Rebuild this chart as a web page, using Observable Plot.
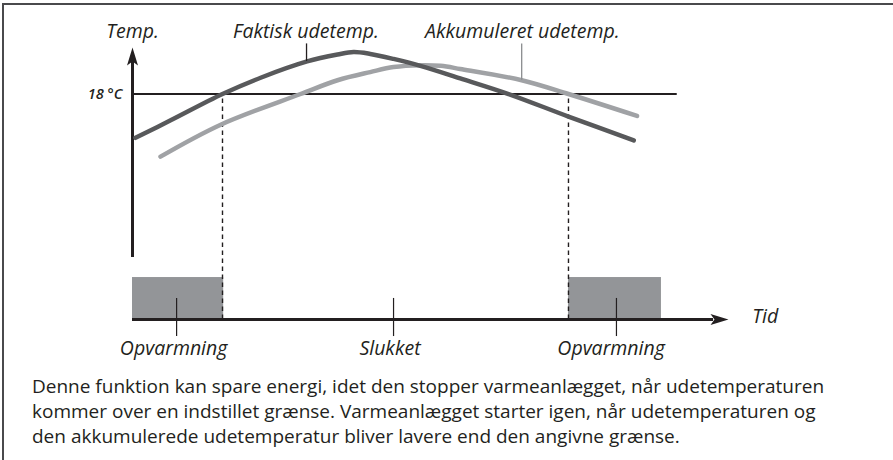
<!DOCTYPE html>
<html>
<head>
<meta charset="utf-8">
<script src="https://cdn.jsdelivr.net/npm/d3@7"></script>
<script src="https://cdn.jsdelivr.net/npm/@observablehq/plot@0.6"></script>
<style>
  html, body { margin: 0; padding: 0; background: #fff; }
  body { width: 893px; height: 460px; overflow: hidden; position: relative; font-family: "Open Sans", sans-serif; }
  #chart { position: absolute; left: 0; top: 0; }
  #caption { position: absolute; left: 32px; top: 374px; font-size: 17px; line-height: 25px; color: #231f20; white-space: nowrap; }
  #frame { position: absolute; left: 2px; top: 3px; width: 900px; height: 470px; border-top: 2px solid #4a4a4c; border-left: 2px solid #4a4a4c; box-sizing: border-box; pointer-events: none; }
</style>
</head>
<body>
<div id="chart"></div>
<div id="caption"></div>
<div id="frame"></div>
<script>
// ---- data (time in arbitrary units 0..100, temperature in °C) ----
const actualTime = [0.5, 6.4, 15.1, 21.5, 29.3, 34.4, 37.1, 39.9, 43.8, 48.3, 55.0, 63.1, 73.15, 84.1];
const actualTemp = [14.5, 15.9, 18.0, 19.3, 20.6, 21.15, 21.35, 21.2, 20.8, 20.25, 19.25, 18.0, 16.2, 14.3];
const accumTime = [4.7, 14.8, 28.2, 34.4, 39.9, 43.8, 48.3, 51.7, 55.0, 65.3, 73.15, 84.65];
const accumTemp = [13.0, 15.55, 18.0, 19.1, 19.75, 20.15, 20.3, 20.25, 20.0, 19.1, 18.0, 16.25];
const threshold = 18;
const thresholdLabel = "18 °C";
const switchTimes = [15.1, 73.15];
const heatStart = [0, 73.15];
const heatEnd = [15.3, 88.75];
const heatLevel = 3.35;
const axisLabels = ["Temp.", "Tid"];
const curveLabels = ["Faktisk udetemp.", "Akkumuleret udetemp."];
const stateLabels = ["Opvarmning", "Slukket", "Opvarmning"];
const captionLines = [
  "Denne funktion kan spare energi, idet den stopper varmeanlægget, når udetemperaturen",
  "kommer over en indstillet grænse. Varmeanlægget starter igen, når udetemperaturen og",
  "den akkumulerede udetemperatur bliver lavere end den angivne grænse."
];

// ---- styling ----
const ink = "#231f20";
const darkGray = "#58595b";
const lightGray = "#a0a2a5";
const barGray = "#939598";

const actualRows = actualTime.map((t, i) => ({t, T: actualTemp[i]}));
const accumRows = accumTime.map((t, i) => ({t, T: accumTemp[i]}));
const heatRows = heatStart.map((s, i) => ({start: s, end: heatEnd[i]}));

// filled arrow head with notch; tip at origin pointing up
const arrowHead = {
  draw(ctx) {
    ctx.moveTo(0, 0);
    ctx.lineTo(5.5, 18);
    ctx.lineTo(0, 14);
    ctx.lineTo(-5.5, 18);
    ctx.closePath();
  }
};

const italic = {fontStyle: "italic", fill: ink, lineAnchor: "bottom", fontSize: 19.5};

const chart = Plot.plot({
  width: 893,
  height: 365,
  marginLeft: 132,
  marginRight: 165,
  marginTop: 43.4,
  marginBottom: 46,
  x: {domain: [0, 100], axis: null},
  y: {domain: [0, 22], axis: null},
  style: {fontFamily: '"Open Sans", sans-serif', fontSize: "19px", color: ink, background: "transparent", overflow: "visible"},
  marks: [
    Plot.rect(heatRows, {x1: "start", x2: "end", y1: 0, y2: heatLevel, fill: barGray}),
    Plot.ruleX(switchTimes, {y1: 0, y2: threshold, stroke: ink, strokeWidth: 1.4, strokeDasharray: "4.5,3.5"}),
    Plot.ruleY([threshold], {x1: 0, x2: 91.4, stroke: ink, strokeWidth: 2}),
    Plot.ruleX([0], {y1: 4.95, y2: 21.0, stroke: ink, strokeWidth: 3}),
    Plot.ruleY([0], {x1: 0, x2: 97.5, stroke: ink, strokeWidth: 3}),
    Plot.dot([{x: 0, y: 21.71, a: 0}, {x: 100, y: 0, a: 90}], {x: "x", y: "y", rotate: "a", symbol: arrowHead, fill: ink, stroke: "none", r: 6}),
    Plot.line(accumRows, {x: "t", y: "T", stroke: lightGray, strokeWidth: 4.5, curve: "catmull-rom"}),
    Plot.line(actualRows, {x: "t", y: "T", stroke: darkGray, strokeWidth: 4.5, curve: "catmull-rom"}),
    // leader lines
    Plot.ruleX([29.2], {y1: 22.0, y2: 20.6, stroke: ink, strokeWidth: 1.3}),
    Plot.ruleX([65.3], {y1: 22.0, y2: 19.1, stroke: "#8a8c8f", strokeWidth: 1.3}),
    Plot.ruleX([7.4, 43.8, 81.2], {y1: 1.68, y2: -1.36, stroke: ink, strokeWidth: 1.2}),
    // labels
    Plot.text([axisLabels[0]], {x: 0, y: 22.51, text: d => d, textAnchor: "middle", ...italic}),
    Plot.text([axisLabels[1]], {x: 104.0, y: -0.24, text: d => d, textAnchor: "start", ...italic}),
    Plot.text([curveLabels[0]], {x: 29.1, y: 22.51, text: d => d, textAnchor: "middle", ...italic}),
    Plot.text([curveLabels[1]], {x: 65.4, y: 22.51, text: d => d, textAnchor: "middle", ...italic}),
    Plot.text([thresholdLabel], {x: -1.68, y: 17.64, text: d => d, textAnchor: "end", ...italic, fontSize: 14.5, fontWeight: 600}),
    Plot.text(stateLabels, {x: [6.9, 43.2, 80.3], y: -2.87, text: d => d, textAnchor: "middle", ...italic})
  ]
});
document.getElementById("chart").appendChild(chart);

// caption: fit first line to its width in the reference
const cap = document.getElementById("caption");
const ctx = document.createElement("canvas").getContext("2d");
ctx.font = '17px "Open Sans"';
const w = ctx.measureText(captionLines[0]).width;
const fs = Math.max(14, Math.min(19, 17 * 826 / w));
cap.style.fontSize = fs + "px";
cap.innerHTML = captionLines.join("<br>");
</script>
</body>
</html>
